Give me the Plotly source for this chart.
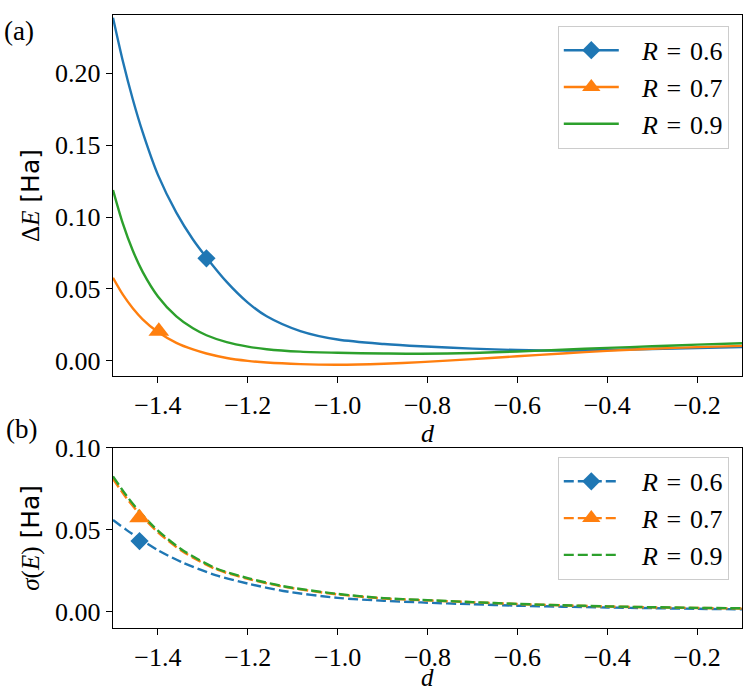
import plotly.graph_objects as go

# ---------------- data ----------------
d_top = [-1.5, -1.478, -1.456, -1.434, -1.4, -1.359, -1.322, -1.292, -1.247, -1.2,
         -1.158, -1.083, -1.0, -0.897, -0.815, -0.7, -0.6, -0.5, -0.4, -0.3, -0.2, -0.1]
dE_R06 = [0.2386, 0.2083, 0.1819, 0.1590, 0.1293, 0.1031, 0.0844, 0.0719, 0.0549, 0.0405,
          0.0310, 0.0207, 0.0148, 0.0117, 0.0101, 0.0085, 0.0075, 0.0071, 0.0075, 0.0082, 0.0089, 0.0095]
dE_R07 = [0.0577, 0.0460, 0.0366, 0.0289, 0.0200, 0.0125, 0.0079, 0.0051, 0.0020, 0.0000,
          -0.0012, -0.0023, -0.0027, -0.0020, -0.0009, 0.0012, 0.0032, 0.0051, 0.0069, 0.0084, 0.0095, 0.0104]
dE_R09 = [0.1188, 0.0954, 0.0767, 0.0619, 0.0448, 0.0309, 0.0226, 0.0178, 0.0130, 0.0099,
          0.0081, 0.0064, 0.0056, 0.0051, 0.0049, 0.0055, 0.0065, 0.0077, 0.0090, 0.0101, 0.0113, 0.0122]

d_bot = [-1.5, -1.471, -1.441, -1.4, -1.344, -1.27, -1.2, -1.121, -1.0, -0.897, -0.815,
         -0.7, -0.6, -0.5, -0.4, -0.3, -0.2, -0.1]
sE_R06 = [0.0559, 0.0500, 0.0445, 0.0374, 0.0298, 0.0221, 0.0171, 0.0126, 0.0084, 0.0066, 0.0056,
          0.0045, 0.0036, 0.0030, 0.0025, 0.0021, 0.0017, 0.0014]
sE_R07 = [0.0810, 0.0696, 0.0597, 0.0484, 0.0365, 0.0258, 0.0200, 0.0152, 0.0105, 0.0080, 0.0070,
          0.0057, 0.0046, 0.0038, 0.0031, 0.0026, 0.0022, 0.0019]
sE_R09 = [0.0825, 0.0711, 0.0609, 0.0494, 0.0373, 0.0263, 0.0204, 0.0155, 0.0108, 0.0082, 0.0072,
          0.0058, 0.0047, 0.0039, 0.0032, 0.0027, 0.0023, 0.0020]

# single highlighted marker per curve
mark_top_R06 = ([-1.292], [0.0713])
mark_top_R07 = ([-1.398], [0.0205])
mark_bot_R06 = ([-1.441], [0.0430])
mark_bot_R07 = ([-1.441], [0.0573])

x_ticks = [-1.4, -1.2, -1.0, -0.8, -0.6, -0.4, -0.2]
y_ticks_top = [0.0, 0.05, 0.10, 0.15, 0.20]
y_ticks_bot = [0.0, 0.05, 0.10]
PAD = "\u2002\u2009"
labels = [PAD + "<i>R</i>\u2004=\u20040.6", PAD + "<i>R</i>\u2004=\u20040.7", PAD + "<i>R</i>\u2004=\u20040.9"]

# ---------------- style ----------------
BLUE, ORANGE, GREEN = "#1f77b4", "#ff7f0e", "#2ca02c"
SERIF = "Liberation Serif"
SANS = "DejaVu Sans"
FS = 26
LW = 2.4
DASH = "10px,4px"

fig = go.Figure()

def line(x, y, color, xa, ya, group, dash=None):
    fig.add_trace(go.Scatter(x=x, y=y, mode="lines", xaxis=xa, yaxis=ya, legendgroup=group,
                             line=dict(color=color, width=LW, shape="spline", smoothing=0.8,
                                       dash=dash or "solid"),
                             showlegend=False, hoverinfo="skip"))

def marker(pt, color, symbol, size, name, xa, ya, legend, group, dash=None):
    fig.add_trace(go.Scatter(x=pt[0], y=pt[1], mode="lines+markers", name=name,
                             xaxis=xa, yaxis=ya, legend=legend, legendgroup=group,
                             line=dict(color=color, width=LW, dash=dash or "solid"),
                             marker=dict(color=color, symbol=symbol, size=size)))

# top panel
line(d_top, dE_R06, BLUE, "x", "y", "a6")
line(d_top, dE_R07, ORANGE, "x", "y", "a7")
line(d_top, dE_R09, GREEN, "x", "y", "a9")
marker(mark_top_R06, BLUE, "diamond", 14, labels[0], "x", "y", "legend", "a6")
marker(mark_top_R07, ORANGE, "triangle-up", 18, labels[1], "x", "y", "legend", "a7")
fig.add_trace(go.Scatter(x=[None], y=[None], mode="lines", name=labels[2], xaxis="x", yaxis="y",
                         legend="legend", legendgroup="a9", line=dict(color=GREEN, width=LW)))

# bottom panel
line(d_bot, sE_R06, BLUE, "x2", "y2", "b6", DASH)
line(d_bot, sE_R07, ORANGE, "x2", "y2", "b7", DASH)
line(d_bot, sE_R09, GREEN, "x2", "y2", "b9", DASH)
marker(mark_bot_R06, BLUE, "diamond", 14, labels[0], "x2", "y2", "legend2", "b6", DASH)
marker(mark_bot_R07, ORANGE, "triangle-up", 18, labels[1], "x2", "y2", "legend2", "b7", DASH)
fig.add_trace(go.Scatter(x=[None], y=[None], mode="lines", name=labels[2], xaxis="x2", yaxis="y2",
                         legend="legend2", legendgroup="b9", line=dict(color=GREEN, width=LW, dash=DASH)))

axis_common = dict(showline=True, mirror=True, linecolor="black", linewidth=1.4,
                   ticks="outside", ticklen=6, tickwidth=1.3, tickcolor="black",
                   showgrid=False, zeroline=False,
                   tickfont=dict(family=SERIF, size=FS, color="black"))

legend_common = dict(bgcolor="white", bordercolor="#cccccc", borderwidth=1,
                     font=dict(family=SERIF, size=FS, color="black"),
                     xanchor="right", yanchor="top", itemwidth=55, tracegroupgap=0,
                     traceorder="grouped")

title_font = dict(family=SERIF, size=FS, color="black")

fig.update_layout(
    width=747, height=695,
    margin=dict(l=113, r=5, t=1, b=67),
    plot_bgcolor="white", paper_bgcolor="white",
    xaxis=dict(domain=[0, 1], range=[-1.5, -0.1], tickvals=x_ticks, tickformat=".1f",
               anchor="y", **axis_common),
    yaxis=dict(domain=[0.4112, 1], range=[-0.0105, 0.2405], tickvals=y_ticks_top, tickformat=".2f",
               anchor="x",
               title=dict(text=f"<span style='font-family:{SERIF}'>Δ<i>E</i></span> [Ha]",
                          font=dict(family=SANS, size=FS - 1, color="black"), standoff=8),
               **axis_common),
    xaxis2=dict(domain=[0, 1], range=[-1.5, -0.1], tickvals=x_ticks, tickformat=".1f",
                anchor="y2", **axis_common),
    yaxis2=dict(domain=[0, 0.2942], range=[-0.01, 0.10], tickvals=y_ticks_bot, tickformat=".2f",
                anchor="x2",
                title=dict(text=f"<span style='font-family:{SERIF}'><i>σ</i>(<i>E</i>)</span> [Ha]",
                           font=dict(family=SANS, size=FS - 1, color="black"), standoff=8),
                **axis_common),
    legend=dict(x=0.979, y=0.9824, **legend_common),
    legend2=dict(x=0.979, y=0.2791, **legend_common),
    annotations=[
        dict(text="<i>d</i>", x=0.5, y=0.318, xref="paper", yref="paper", showarrow=False,
             xanchor="center", yanchor="middle", font=title_font),
        dict(text="<i>d</i>", x=0.5, y=-0.1066, xref="paper", yref="paper", showarrow=False,
             xanchor="center", yanchor="bottom", font=dict(family=SERIF, size=FS - 1, color="black")),
        dict(text="(a)", x=-0.150, y=0.9745, xref="paper", yref="paper", showarrow=False,
             xanchor="center", yanchor="middle", font=dict(family=SERIF, size=FS + 1, color="black")),
        dict(text="(b)", x=-0.145, y=0.325, xref="paper", yref="paper", showarrow=False,
             xanchor="center", yanchor="middle", font=dict(family=SERIF, size=FS + 1, color="black")),
    ],
)

fig.write_html("out.html", config={"displayModeBar": False},
               post_script="document.body.style.margin='0';document.body.style.overflow='hidden';")
